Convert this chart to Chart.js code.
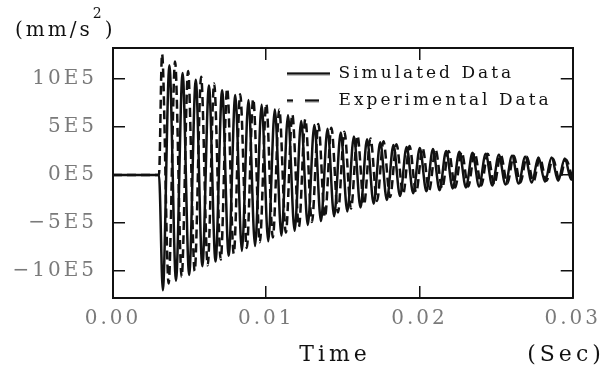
<!DOCTYPE html>
<html>
<head>
<meta charset="utf-8">
<script src="https://cdn.jsdelivr.net/npm/chart.js@4.4.1/dist/chart.umd.min.js"></script>
<style>
  html, body { margin: 0; padding: 0; background: #fff; }
</style>
</head>
<body>
<canvas id="accChart" width="616" height="373"></canvas>
<script>
// time in ms, acceleration in units of 1E5 mm/s^2 (peaks)
const simTime = [0, 3.00, 3.25, 3.68, 4.11, 4.54, 4.97, 5.40, 5.83, 6.26, 6.69, 7.12, 7.55, 7.98, 8.41, 8.84,
  9.27, 9.70, 10.13, 10.56, 10.99, 11.42, 11.85, 12.28, 12.71, 13.14, 13.57, 14.00, 14.43, 14.86, 15.29, 15.72,
  16.15, 16.58, 17.01, 17.44, 17.87, 18.30, 18.73, 19.16, 19.59, 20.02, 20.45, 20.88, 21.31, 21.74, 22.17, 22.60,
  23.03, 23.46, 23.89, 24.32, 24.75, 25.18, 25.61, 26.04, 26.47, 26.90, 27.33, 27.76, 28.19, 28.62, 29.05, 29.48,
  29.91, 30.00];
const simAcc = [0, 0, -12.0, 11.4, -11.0, 10.6, -10.4, 9.9, -9.5, 9.3, -9.0, 8.8, -8.4, 8.3, -7.9, 7.8,
  -7.4, 7.3, -6.9, 6.8, -6.3, 6.2, -5.8, 5.6, -5.2, 5.2, -4.8, 4.8, -4.3, 4.4, -3.8, 4.0,
  -3.4, 3.7, -3.0, 3.4, -2.6, 3.1, -2.2, 2.9, -1.9, 2.8, -1.7, 2.7, -1.6, 2.5, -1.4, 2.4,
  -1.3, 2.3, -1.2, 2.2, -1.1, 2.1, -1.0, 2.0, -0.9, 1.9, -0.8, 1.8, -0.7, 1.8, -0.6, 1.7,
  -0.5, 0.3];

const expTime = [0, 3.00, 3.20, 3.63, 4.05, 4.48, 4.90, 5.33, 5.75, 6.18, 6.60, 7.03, 7.45, 7.88, 8.30, 8.73,
  9.15, 9.58, 10.00, 10.43, 10.85, 11.28, 11.70, 12.13, 12.55, 12.98, 13.40, 13.83, 14.25, 14.68, 15.10, 15.53,
  15.95, 16.38, 16.80, 17.23, 17.65, 18.08, 18.50, 18.93, 19.35, 19.78, 20.20, 20.63, 21.05, 21.48, 21.90, 22.33,
  22.75, 23.18, 23.60, 24.03, 24.45, 24.88, 25.30, 25.73, 26.15, 26.58, 27.00, 27.43, 27.85, 28.28, 28.70, 29.13,
  29.55, 29.98];
const expAcc = [0, 0, 12.6, -11.3, 11.8, -10.6, 10.8, -10.0, 10.2, -9.4, 9.5, -8.8, 9.0, -8.2, 8.4, -7.6,
  7.9, -7.0, 7.4, -6.5, 6.8, -6.0, 6.3, -5.4, 5.8, -4.9, 5.3, -4.4, 4.9, -3.9, 4.5, -3.5,
  4.1, -3.1, 3.8, -2.7, 3.5, -2.3, 3.2, -2.0, 3.0, -1.8, 2.8, -1.6, 2.6, -1.4, 2.5, -1.3,
  2.4, -1.2, 2.3, -1.1, 2.2, -1.0, 2.1, -0.9, 2.0, -0.8, 1.9, -0.7, 1.8, -0.6, 1.7, -0.5,
  1.6, -0.4];

const seriesNames = ['Simulated Data', 'Experimental Data'];
const xTickValues = [0, 10, 20, 30];
const xTickLabels = ['0.00', '0.01', '0.02', '0.03'];
const yTickValues = [-10, -5, 0, 5, 10];
const yTickLabels = ['\u221210E5', '\u22125E5', '0E5', '5E5', '10E5'];

const serif = 'DejaVu Serif';
const ink = '#111';
const faint = '#7a7a7a';

const toPoints = (xs, ys) => xs.map((t, i) => ({ x: t, y: ys[i] }));

// small line swatch for the legend (solid or dashed)
function swatch(dash) {
  const c = document.createElement('canvas');
  c.width = 43;
  c.height = 4;
  const g = c.getContext('2d');
  g.strokeStyle = ink;
  g.lineWidth = 2.5;
  g.setLineDash(dash);
  g.beginPath();
  g.moveTo(0, 2);
  g.lineTo(43, 2);
  g.stroke();
  return c;
}

// canvas letter spacing, the scanned type is set wide
const spacing = {
  id: 'spacing',
  beforeDraw(chart) { chart.ctx.letterSpacing = '3px'; }
};

// legend goes inside the frame, top right
const legendSpot = {
  id: 'legendSpot',
  afterLayout(chart) {
    if (chart.legend) {
      chart.legend.left = 277;
      chart.legend.top = 55;
    }
  }
};

// unit labels
const notes = {
  id: 'notes',
  afterDraw(chart) {
    const c = chart.ctx;
    c.save();
    c.fillStyle = ink;
    c.textBaseline = 'middle';
    c.textAlign = 'left';
    c.letterSpacing = '3px';
    c.font = '20px "' + serif + '"';
    c.fillText('(mm/s', 15, 31);
    let w = c.measureText('(mm/s').width;
    c.font = '14px "' + serif + '"';
    c.fillText('2', 15 + w, 14);
    w += c.measureText('2').width;
    c.font = '20px "' + serif + '"';
    c.fillText(')', 15 + w, 31);

    c.font = '22px "' + serif + '"';
    c.letterSpacing = '4px';
    c.textAlign = 'center';
    c.fillText('Time', 335, 355);
    c.fillText('(Sec)', 566, 355);
    c.restore();
  }
};

const ctx = document.getElementById('accChart').getContext('2d');

const tickGrid = { drawOnChartArea: false, tickLength: -12, color: ink, lineWidth: 1.5 };
const frame = { display: true, color: ink, width: 2 };

new Chart(ctx, {
  type: 'line',
  data: {
    datasets: [{
      label: seriesNames[0],
      data: toPoints(simTime, simAcc),
      borderColor: ink,
      borderWidth: 2.5,
      pointRadius: 0,
      pointStyle: swatch([]),
      cubicInterpolationMode: 'monotone',
    }, {
      label: seriesNames[1],
      data: toPoints(expTime, expAcc),
      borderColor: ink,
      borderWidth: 2.5,
      borderDash: [9, 5],
      pointRadius: 0,
      pointStyle: swatch([6, 12, 14, 20]),
      cubicInterpolationMode: 'monotone',
    }]
  },
  options: {
    responsive: false,
    animation: false,
    devicePixelRatio: 1,
    layout: { padding: { left: 0, top: 48, right: 39, bottom: 0 } },
    plugins: {
      legend: {
        position: 'chartArea',
        align: 'start',
        labels: {
          usePointStyle: true,
          pointStyleWidth: 43,
          color: ink,
          padding: 10,
          font: { family: serif, size: 17 },
        }
      },
      tooltip: { enabled: false },
    },
    scales: {
      x: {
        type: 'linear',
        position: 'bottom',
        min: 0,
        max: 30,
        afterBuildTicks: (s) => { s.ticks = xTickValues.map(v => ({ value: v })); },
        afterFit: (s) => { s.height = 75; },
        ticks: {
          color: faint,
          padding: 21,
          maxRotation: 0,
          font: { family: serif, size: 20 },
          callback: (v) => xTickLabels[xTickValues.indexOf(v)],
        },
        grid: tickGrid,
        border: frame,
      },
      xTop: {
        type: 'linear',
        position: 'top',
        min: 0,
        max: 30,
        afterBuildTicks: (s) => { s.ticks = xTickValues.map(v => ({ value: v })); },
        afterFit: (s) => { s.height = 0; },
        ticks: { display: false },
        grid: tickGrid,
        border: frame,
      },
      y: {
        type: 'linear',
        position: 'left',
        min: -12.8,
        max: 13.2,
        afterBuildTicks: (s) => { s.ticks = yTickValues.map(v => ({ value: v })); },
        afterFit: (s) => { s.width = 113; },
        ticks: {
          color: faint,
          padding: 28,
          font: { family: serif, size: 20 },
          callback: (v) => yTickLabels[yTickValues.indexOf(v)],
        },
        grid: tickGrid,
        border: frame,
      },
      yRight: {
        type: 'linear',
        position: 'right',
        min: -12.8,
        max: 13.2,
        afterBuildTicks: (s) => { s.ticks = yTickValues.map(v => ({ value: v })); },
        afterFit: (s) => { s.width = 0; },
        ticks: { display: false },
        grid: tickGrid,
        border: frame,
      },
    },
  },
  plugins: [spacing, legendSpot, notes],
});
</script>
</body>
</html>
